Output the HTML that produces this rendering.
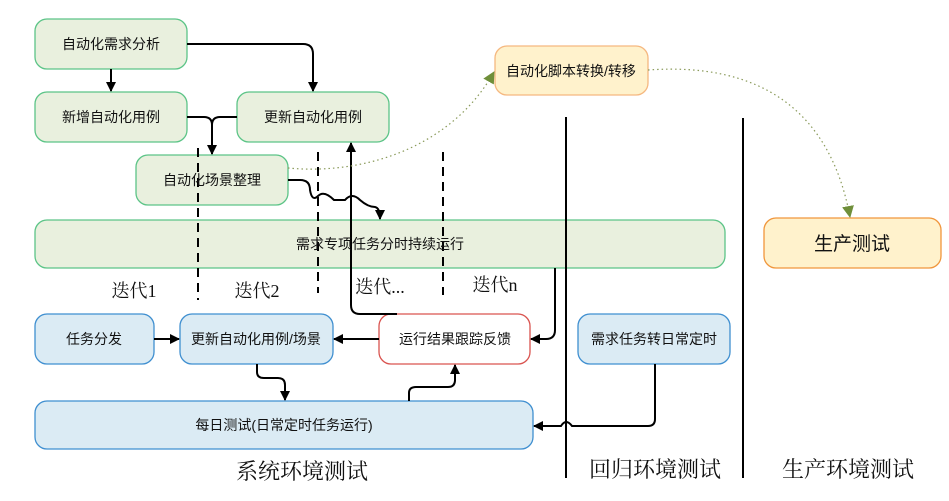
<!DOCTYPE html>
<html><head><meta charset="utf-8"><style>
body{margin:0;background:#fff;}
svg{display:block;font-family:"Liberation Sans","Noto Sans CJK SC",sans-serif;}
.s{font-family:"Liberation Serif","Noto Serif CJK SC",serif;}
</style></head><body>
<svg width="949" height="501" viewBox="0 0 949 501">
<defs>
<marker id="a" markerWidth="10" markerHeight="10" refX="9" refY="5" orient="auto" markerUnits="userSpaceOnUse"><path d="M0,0 L10,5 L0,10 z" fill="#000"/></marker>
<marker id="g" markerWidth="12" markerHeight="12" refX="11" refY="6" orient="auto" markerUnits="userSpaceOnUse"><path d="M0,0 L12,6 L0,12 z" fill="#6f8f3a"/></marker>
</defs>
<g stroke="#5cc487" stroke-width="1.3" fill="#e9f0de">
<rect x="35" y="19" width="152" height="50" rx="12"/>
<rect x="35" y="92" width="152" height="50" rx="12"/>
<rect x="237" y="92" width="152" height="50" rx="12"/>
<rect x="136" y="155" width="152" height="50" rx="12"/>
<rect x="35" y="220" width="690" height="48" rx="12"/>
</g>
<rect x="495" y="46" width="153" height="49" rx="12" fill="#fff2cc" stroke="#f5b880" stroke-width="1.3"/>
<rect x="764" y="218" width="177" height="50" rx="12" fill="#fff2cc" stroke="#f0963c" stroke-width="1.3"/>
<g stroke="#3f8fd0" stroke-width="1.3" fill="#dbebf4">
<rect x="35" y="314" width="119" height="50" rx="12"/>
<rect x="180" y="314" width="153" height="50" rx="12"/>
<rect x="578" y="314" width="152" height="50" rx="12"/>
<rect x="35" y="401" width="498" height="48" rx="12"/>
</g>
<rect x="379" y="314" width="151" height="50" rx="12" fill="#fff" stroke="#d9534f" stroke-width="1.3"/>

<g stroke="#000" stroke-width="2" fill="none">
<line x1="566" y1="117" x2="566" y2="478"/>
<line x1="743" y1="118" x2="743" y2="478"/>
<g stroke-dasharray="9,6">
<line x1="198" y1="148" x2="198" y2="300"/>
<line x1="318" y1="152" x2="318" y2="293"/>
<line x1="443" y1="152" x2="443" y2="295"/>
</g>
<path d="M187,44 H303 Q313,44 313,54 V91" marker-end="url(#a)"/>
<path d="M111,69 V91" marker-end="url(#a)"/>
<path d="M187,117 H204 Q212,117 212,125 V154" marker-end="url(#a)"/>
<path d="M237,117 H220 Q212,117 212,125"/>
<path d="M288,180 H300 Q310,180 310,190 Q312,202 318,196 Q324,190 334,200 H345 Q352,192 360,200 Q368,207 375,207 Q380,208 380,219" marker-end="url(#a)"/>
<path d="M397,314 H360 Q351,314 351,305 V143" marker-end="url(#a)"/>
<path d="M555,268 V330 Q555,339 546,339 H531" marker-end="url(#a)"/>
<path d="M379,339 H334" marker-end="url(#a)"/>
<path d="M154,339 H179" marker-end="url(#a)"/>
<path d="M257,364 V372 Q257,378 264,378 H278 Q285,378 285,385 V400" marker-end="url(#a)"/>
<path d="M409,401 V393 Q409,387 416,387 H448 Q455,387 455,380 V365" marker-end="url(#a)"/>
<path d="M655,364 V419 Q655,426 648,426 H572 Q566,418 561,426 H534" marker-end="url(#a)"/>
</g>
<g stroke="#8a9a5a" stroke-width="1.2" fill="none" stroke-dasharray="1.5,3">
<path d="M288,168 C360,175 450,150 494,72" marker-end="url(#g)"/>
<path d="M648,70 C760,62 830,110 850,217" marker-end="url(#g)"/>
</g>

<g font-size="14" fill="#111" text-anchor="middle">
<text x="111" y="49">自动化需求分析</text>
<text x="111" y="122">新增自动化用例</text>
<text x="313" y="122">更新自动化用例</text>
<text x="212" y="185">自动化场景整理</text>
<text x="380" y="249">需求专项任务分时持续运行</text>
<text x="571" y="76">自动化脚本转换/转移</text>
<text x="94" y="344">任务分发</text>
<text x="256" y="344">更新自动化用例/场景</text>
<text x="455" y="344">运行结果跟踪反馈</text>
<text x="654" y="344">需求任务转日常定时</text>
<text x="284" y="430">每日测试(日常定时任务运行)</text>
</g>
<text x="852" y="250" font-size="19" text-anchor="middle" fill="#111">生产测试</text>
<g class="s" font-size="18" fill="#111" text-anchor="middle">
<text x="134" y="297">迭代1</text>
<text x="257" y="297">迭代2</text>
<text x="380" y="293">迭代...</text>
<text x="495" y="291">迭代n</text>
</g>
<g class="s" font-size="22" fill="#111" text-anchor="middle">
<text x="302" y="479">系统环境测试</text>
<text x="655" y="477">回归环境测试</text>
<text x="848" y="477">生产环境测试</text>
</g>
</svg>
</body></html>
